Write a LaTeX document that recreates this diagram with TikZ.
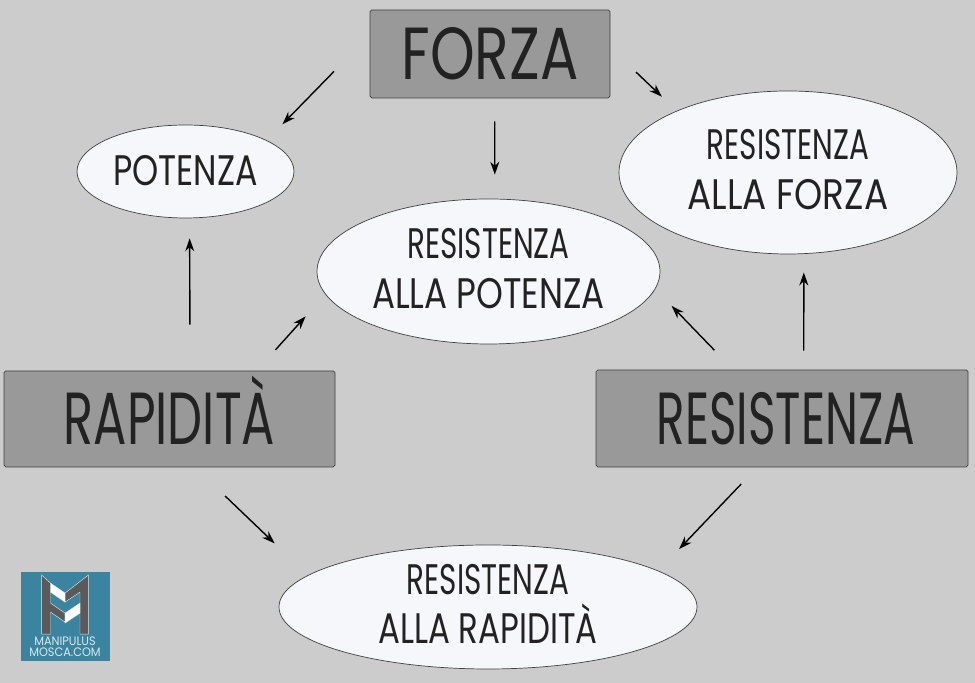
\documentclass[tikz,border=0pt]{standalone}
\usepackage{fontspec}
\setmainfont{Poppins}
\newcommand{\fitw}[1]{\addfontfeature{FakeStretch=#1}}
\newcommand{\lift}{\rule[-3.4pt]{0pt}{0pt}}
\usetikzlibrary{arrows.meta,shapes.geometric}
\definecolor{bgcol}{HTML}{CCCCCC}
\definecolor{boxcol}{HTML}{999999}
\definecolor{ovalcol}{HTML}{F6F7FA}
\definecolor{inkcol}{HTML}{222222}
\definecolor{logocol}{HTML}{3B84A0}
\definecolor{logodark}{HTML}{5A5A5A}
\definecolor{logotext}{HTML}{D8E8EE}
\tikzset{
  mainbox/.style={draw=black!75,fill=boxcol,rounded corners=1pt,inner sep=0pt,text=inkcol,text height=29.4pt,text depth=0pt,font=\fontsize{42pt}{48pt}\selectfont},
  oval/.style={draw=black!75,fill=ovalcol,ellipse,inner sep=0pt,text=inkcol,align=center,font=\fontsize{24.3pt}{28.3pt}\selectfont},
  link/.style={line width=0.8pt,-{Stealth[length=2.6mm,width=1.8mm]}},
  logopart/.style={draw=logotext,line width=0.25pt},
  logoword/.style={inner sep=0pt,text=logotext,font=\fontsize{7pt}{9pt}\selectfont\fitw{0.92}}
}
\begin{document}
\begin{tikzpicture}
\useasboundingbox (0,0) rectangle (19.5,13.66);
\fill[bgcol] (0,0) rectangle (19.5,13.66);
\node[mainbox,minimum width=4.8cm,minimum height=1.76cm] (forza) at (9.8,12.58) {\fitw{0.77}FORZA};
\node[mainbox,minimum width=6.62cm,minimum height=1.92cm] (rapidita) at (3.39,5.28) {\fitw{0.67}RAPIDITÀ};
\node[mainbox,minimum width=7.44cm,minimum height=1.94cm] (resistenza) at (15.64,5.29) {\hspace*{4.5pt}\fitw{0.635}RESISTENZA};
\node[oval,minimum width=4.34cm,minimum height=1.86cm] (potenza) at (3.71,10.23) {\fitw{0.78}POTENZA\rule[-1pt]{0pt}{0pt}};
\node[oval,minimum width=6.76cm,minimum height=3.26cm] (resforza) at (15.76,10.21) {{\fitw{0.69}RESISTENZA}\\\fitw{0.84}ALLA FORZA\lift};
\node[oval,minimum width=6.86cm,minimum height=2.9cm] (respotenza) at (9.77,8.23) {{\fitw{0.69}RESISTENZA}\\\fitw{0.8}ALLA POTENZA\lift};
\node[oval,minimum width=8.36cm,minimum height=2.48cm] (resrapidita) at (9.76,1.52) {{\fitw{0.69}RESISTENZA}\\\fitw{0.76}ALLA RAPIDITÀ\lift};
% connectors
\draw[link,shorten <=1.02cm,shorten >=0.45cm] (forza.171) -- (potenza.21.6);
\draw[link,shorten <=0.46cm,shorten >=0.48cm] (forza.-84.8) -- (respotenza.85.7);
\draw[link,shorten <=0.71cm,shorten >=0.41cm] (forza.3.8) -- (resforza.151.5);
\draw[link,shorten <=0.92cm,shorten >=0.4cm] (rapidita.67.9) -- (potenza.-85.7);
\draw[link,shorten <=0.56cm,shorten >=0.59cm] (rapidita.29.2) -- (respotenza.188.9);
\draw[link,shorten <=0.54cm,shorten >=0.47cm] (resistenza.135.9) -- (respotenza.-6.9);
\draw[link,shorten <=0.38cm,shorten >=0.37cm] (resistenza.66.6) -- (resforza.-79.5);
\draw[link,shorten <=0.83cm,shorten >=0.92cm] (rapidita.-62.6) -- (resrapidita.170.4);
\draw[link,shorten <=0.46cm,shorten >=0.6cm] (resistenza.-117.1) -- (resrapidita.12.9);
% logo
\fill[logocol] (0.42,0.44) rectangle (2.2,2.22);
\begin{scope}[yshift=13.66cm,x=0.02cm,y=-0.02cm]
\fill[logodark,logopart] (41.7,575) -- (50.5,583) -- (50.5,603) -- (65,613) -- (65,622) -- (50.5,612) -- (50.5,634) -- (41.7,634) -- cycle;
\fill[logodark,logopart] (88.3,575) -- (65,593) -- (65,602) -- (80,592) -- (80,634) -- (88.3,634) -- cycle;
\fill[white,logopart] (50.5,583) -- (65,593) -- (65,602) -- (50.5,592) -- cycle;
\fill[white,logopart] (65,613) -- (80,603) -- (80,613) -- (65,623) -- cycle;
\node[logoword] (logotop) at (65,641.5) {MANIPULUS};
\node[logoword] (logobottom) at (65,652.5) {MOSCA.COM};
\end{scope}
\end{tikzpicture}
\end{document}
